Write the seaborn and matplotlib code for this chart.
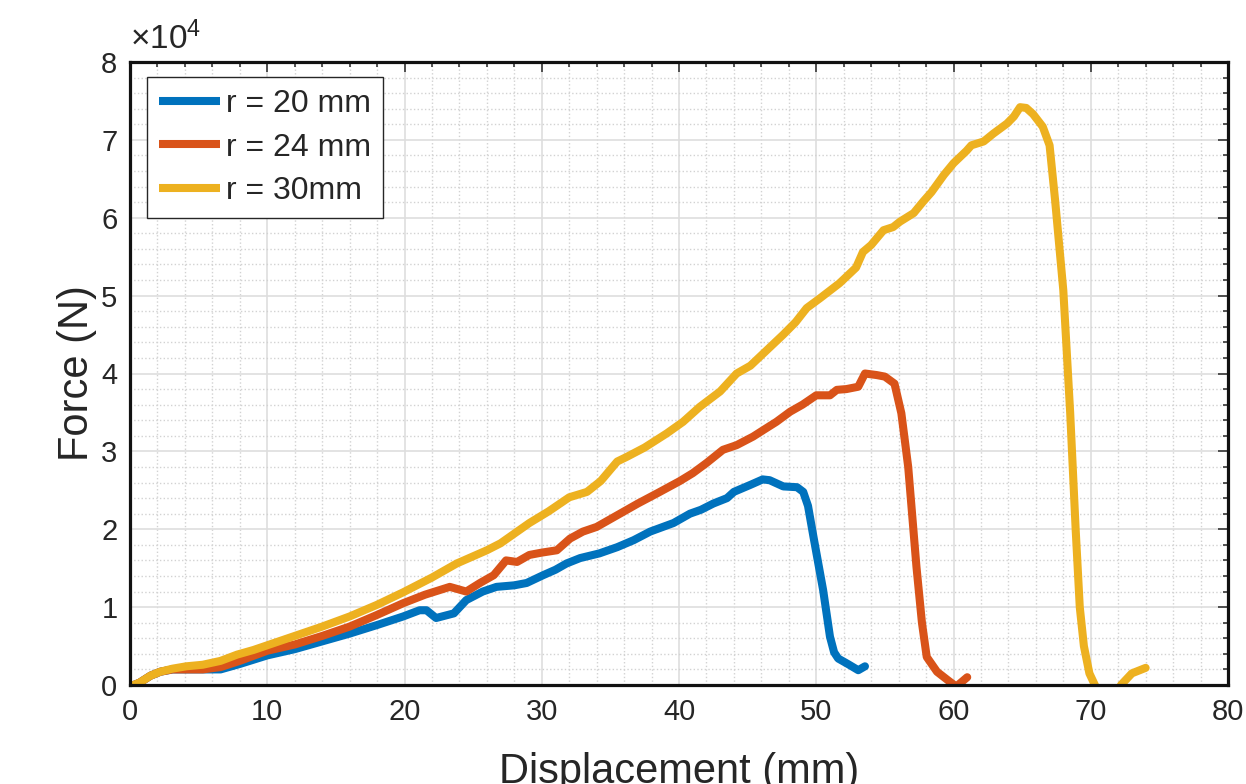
import numpy as np
import pandas as pd
import matplotlib
matplotlib.use("Agg")
import matplotlib.pyplot as plt
import seaborn as sns
from matplotlib.ticker import MultipleLocator, FuncFormatter

# ---- data (force in units of 1e4 N) ----
x_r20 = [0, 0.7, 1.5, 2.2, 3.1, 4.1, 5.3, 6.6, 8.0, 10.0, 12.0, 14.0, 16.0, 18.0, 19.9,
         21.1, 21.6, 22.3, 23.6, 24.5, 25.7, 26.7, 28.0, 28.9, 30.1, 31.0, 31.8, 32.8,
         34.2, 35.5, 36.7, 37.9, 39.6, 40.8, 41.6, 42.5, 43.5, 44.0, 45.2, 46.1, 46.6,
         47.6, 48.6, 49.05, 49.4, 49.8, 50.5, 51.0, 51.3, 51.6, 52.3, 53.06, 53.55]
f_r20 = [-0.02, 0.03, 0.12, 0.17, 0.2, 0.2, 0.2, 0.2, 0.27, 0.38, 0.46, 0.56, 0.66, 0.77, 0.88,
         0.96, 0.96, 0.86, 0.92, 1.09, 1.2, 1.26, 1.28, 1.31, 1.41, 1.48, 1.56, 1.63,
         1.69, 1.77, 1.86, 1.97, 2.08, 2.2, 2.25, 2.33, 2.4, 2.48, 2.57, 2.64, 2.63,
         2.55, 2.54, 2.48, 2.3, 1.9, 1.22, 0.62, 0.42, 0.34, 0.27, 0.19, 0.24]

x_r24 = [0, 0.7, 1.5, 2.2, 3.1, 4.1, 5.3, 6.6, 8.0, 10.0, 12.0, 14.0, 16.0, 18.0, 19.9,
         21.5, 23.3, 24.5, 25.5, 26.5, 27.4, 28.2, 29.1, 30.0, 31.1, 32.06, 33.0, 34.0,
         35.7, 37.0, 38.5, 40.07, 41.0, 42.0, 43.2, 44.2, 45.4, 46.2, 47.1, 48.1, 49.0,
         50.0, 51.0, 51.5, 52.2, 53.06, 53.55, 54.4, 55.0, 55.7, 56.2, 56.7, 57.3, 57.7,
         58.05, 58.8, 59.6, 60.2, 61.0]
f_r24 = [-0.02, 0.03, 0.12, 0.17, 0.2, 0.2, 0.2, 0.23, 0.31, 0.44, 0.52, 0.63, 0.75, 0.9, 1.05,
         1.16, 1.26, 1.2, 1.31, 1.41, 1.6, 1.58, 1.67, 1.7, 1.73, 1.88, 1.97, 2.03,
         2.2, 2.33, 2.47, 2.62, 2.72, 2.85, 3.02, 3.08, 3.19, 3.28, 3.38, 3.51, 3.6,
         3.72, 3.72, 3.79, 3.8, 3.83, 4.0, 3.98, 3.96, 3.87, 3.49, 2.8, 1.52, 0.8,
         0.36, 0.17, 0.06, -0.02, 0.1]

x_r30 = [0, 0.7, 1.5, 2.2, 3.1, 4.1, 5.3, 6.6, 7.8, 9.0, 10.0, 12.0, 14.0, 16.0, 18.0,
         19.9, 22.0, 23.8, 26.0, 27.0, 29.1, 30.5, 32.0, 33.3, 34.3, 35.5, 36.2, 37.5,
         39.1, 40.3, 41.5, 43.0, 44.2, 45.2, 46.4, 47.6, 48.5, 49.3, 50.3, 51.7, 52.9,
         53.4, 54.0, 54.9, 55.6, 56.1, 57.1, 57.8, 58.4, 59.3, 60.0, 60.95, 61.3, 62.2,
         62.9, 63.9, 64.4, 64.85, 65.3, 65.8, 66.5, 67.0, 67.4, 68.0, 68.5, 68.9, 69.2,
         69.5, 69.9, 70.3, 71.0, 71.6, 72.2, 73.0, 74.0]
f_r30 = [-0.02, 0.03, 0.12, 0.17, 0.21, 0.24, 0.26, 0.31, 0.39, 0.45, 0.51, 0.63, 0.75, 0.88, 1.03,
         1.19, 1.38, 1.56, 1.73, 1.82, 2.08, 2.23, 2.41, 2.48, 2.62, 2.87, 2.93, 3.05,
         3.23, 3.38, 3.57, 3.77, 4.0, 4.1, 4.3, 4.5, 4.66, 4.84, 4.97, 5.16, 5.36,
         5.56, 5.65, 5.84, 5.88, 5.95, 6.06, 6.21, 6.33, 6.55, 6.7, 6.86, 6.93, 6.98,
         7.08, 7.21, 7.3, 7.42, 7.41, 7.33, 7.17, 6.93, 6.23, 5.07, 3.5, 2.0, 1.0,
         0.5, 0.15, 0.0, -0.3, -0.3, 0.0, 0.15, 0.22]

labels = ["r = 20 mm", "r = 24 mm", "r = 30mm"]
colors = ["#0072BD", "#D95319", "#EDB120"]
x_ticks = [0, 10, 20, 30, 40, 50, 60, 70, 80]
y_ticks = [0, 1, 2, 3, 4, 5, 6, 7, 8]  # x 1e4

frames = []
for lab, xs, fs in zip(labels, [x_r20, x_r24, x_r30], [f_r20, f_r24, f_r30]):
    frames.append(pd.DataFrame({"Displacement": xs, "Force": np.array(fs) * 1e4, "series": lab}))
df = pd.concat(frames, ignore_index=True)

sns.set_theme(style="white")
plt.rcParams["font.family"] = ["Liberation Sans", "DejaVu Sans"]
plt.rcParams["mathtext.fontset"] = "custom"
plt.rcParams["mathtext.rm"] = "Liberation Sans"

fig = plt.figure(figsize=(12.46, 7.84), dpi=100)
ax = fig.add_axes([130 / 1246, 1 - 685 / 784, 1098 / 1246, 623 / 784])

LW = 5.8
sns.lineplot(data=df, x="Displacement", y="Force", hue="series", hue_order=labels,
             palette=colors, sort=False, estimator=None, linewidth=LW, ax=ax)

ax.set_xlim(0, 80)
ax.set_ylim(0, 8e4)
ax.xaxis.set_minor_locator(MultipleLocator(2))
ax.yaxis.set_minor_locator(MultipleLocator(0.2e4))
ax.set_xticks(x_ticks)
ax.set_yticks([v * 1e4 for v in y_ticks])
ax.yaxis.set_major_formatter(FuncFormatter(lambda v, p: f"{v / 1e4:g}"))

ax.grid(which="major", color="#dedede", linewidth=1.2, linestyle="-")
ax.grid(which="minor", color="#d2d2d2", linewidth=1.0, linestyle=":")
ax.set_axisbelow(True)

ax.tick_params(which="both", direction="in", top=True, right=True,
               colors="#262626", labelsize=21, width=1.1)
ax.tick_params(which="major", length=7.5, pad=9)
ax.tick_params(which="minor", length=3.8)
for sp in ax.spines.values():
    sp.set_linewidth(2.3)
    sp.set_color("#111111")

ax.set_xlabel("Displacement (mm)", fontsize=30, color="#262626", labelpad=19)
ax.set_ylabel("Force (N)", fontsize=30, color="#262626", labelpad=3)

ax.text(0.0, 1.01, r"$\times\mathregular{10^{4}}$", transform=ax.transAxes,
        fontsize=24, color="#262626", ha="left", va="bottom")

leg = ax.legend(loc="upper left", bbox_to_anchor=(17 / 1098, 1 - 15 / 623), borderaxespad=0,
                fontsize=23, frameon=True, fancybox=False, framealpha=1,
                handlelength=1.9, handletextpad=0.2, borderpad=0.38, labelspacing=0.42,
                title=None)
leg.get_frame().set_edgecolor("#262626")
leg.get_frame().set_linewidth(1.0)
for line in leg.get_lines():
    line.set_linewidth(LW)
    line.set_solid_capstyle("butt")

fig.savefig("out.png", dpi=100)
